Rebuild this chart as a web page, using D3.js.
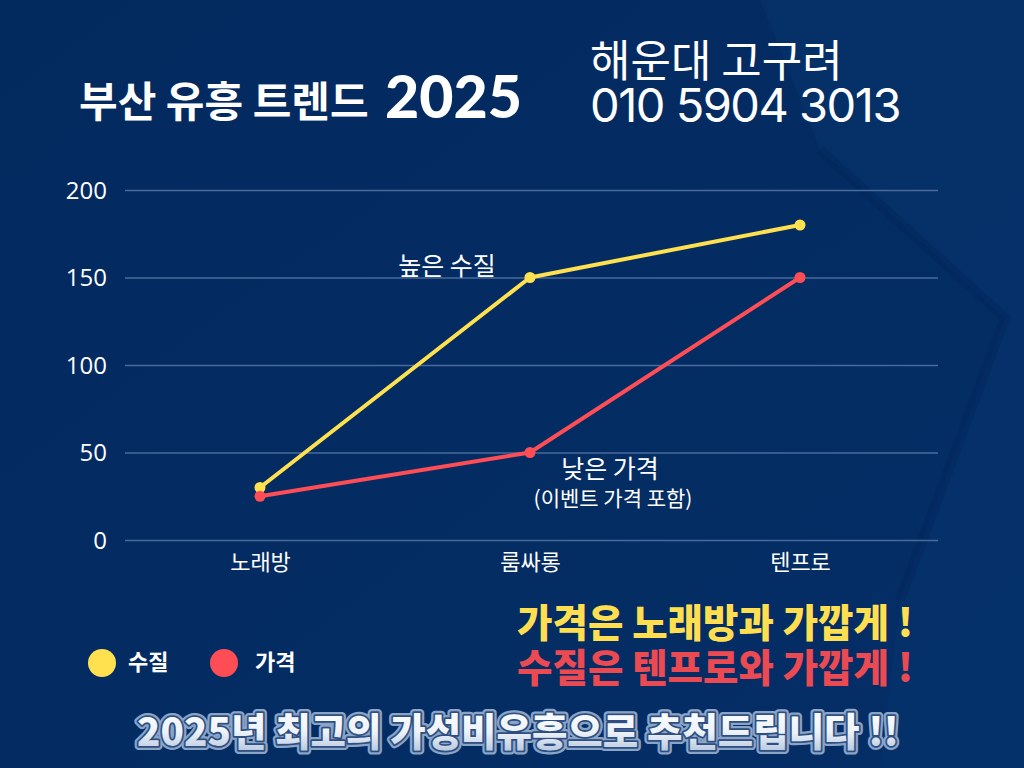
<!DOCTYPE html>
<html><head><meta charset="utf-8">
<script src="https://cdn.jsdelivr.net/npm/d3@7"></script>
<style>
html,body{margin:0;padding:0;background:#03295e;}
svg{display:block;}
</style></head>
<body>
<svg id="c" width="1024" height="768"></svg>
<script>
const categories = ["노래방", "룸싸롱", "텐프로"];
const quality = [30, 150, 180];
const price = [25, 50, 150];
const yTicks = [0, 50, 100, 150, 200];
const seriesNames = ["수질", "가격"];

const W = 1024, H = 768;
const svg = d3.select("#c");
const KR = "'Noto Sans CJK KR', 'Noto Sans', sans-serif";

// background
const defs = svg.append("defs");
const bg = defs.append("linearGradient").attr("id","bg").attr("x1",0).attr("y1",0).attr("x2",1).attr("y2",1);
bg.append("stop").attr("offset","0%").attr("stop-color","#032a5f");
bg.append("stop").attr("offset","100%").attr("stop-color","#042e66");
svg.append("rect").attr("width",W).attr("height",H).attr("fill","url(#bg)");
svg.append("path").attr("d","M820,150 L1005,318 L900,600 L880,768 L1024,768 L1024,0 L760,0 Z").attr("fill","#05336d").attr("opacity",0.5);
svg.append("path").attr("d","M820,150 L1005,318 L900,600").attr("fill","none").attr("stroke","#02255a").attr("stroke-width",10).attr("opacity",0.4);

const tg = defs.append("linearGradient").attr("id","tg").attr("x1",0).attr("y1",0).attr("x2",0).attr("y2",1);
tg.append("stop").attr("offset","0%").attr("stop-color","#ffffff");
tg.append("stop").attr("offset","55%").attr("stop-color","#eef3fa");
tg.append("stop").attr("offset","100%").attr("stop-color","#a9bcd8");

// scales
const x = d3.scalePoint().domain(categories).range([125, 935]).padding(0.5);
const y = d3.scaleLinear().domain([0, 200]).range([540, 190]);

// grid
const gy = svg.append("g").attr("transform","translate(938,0)");
gy.call(d3.axisLeft(y).tickValues(yTicks).tickSize(813).tickFormat(""));
gy.select(".domain").remove();
gy.selectAll("line").attr("stroke","#5a7bab").attr("stroke-width",1.5).attr("opacity",0.8);

const gyl = svg.append("g").attr("transform","translate(107,0)");
gyl.call(d3.axisLeft(y).tickValues(yTicks).tickSize(0).tickPadding(0));
gyl.select(".domain").remove();
gyl.selectAll("text").attr("fill","#ffffff").attr("font-family","'Open Sans','Noto Sans',sans-serif").attr("font-size",24).attr("dy","0.35em");

const gx = svg.append("g").attr("transform","translate(0,540)");
gx.call(d3.axisBottom(x).tickSize(0).tickPadding(0));
gx.select(".domain").remove();
gx.selectAll("text").attr("fill","#ffffff").attr("font-family",KR).attr("font-size",22).attr("dy",0).attr("y",30);

// lines
const series = [
  {name: seriesNames[0], values: quality, color: "#ffe14f"},
  {name: seriesNames[1], values: price, color: "#ff4d55"}
];
const line = d3.line().x((d,i)=>x(categories[i])).y(d=>y(d));
series.forEach(s=>{
  svg.append("path").datum(s.values).attr("d", line).attr("fill","none")
    .attr("stroke", s.color).attr("stroke-width",4).attr("stroke-linejoin","round");
  svg.selectAll(null).data(s.values).enter().append("circle")
    .attr("cx",(d,i)=>x(categories[i])).attr("cy",d=>y(d)).attr("r",5.5).attr("fill",s.color);
});

// annotations
svg.append("text").attr("x", x(categories[1]) - 83).attr("y", y(quality[1]) - 3)
  .attr("text-anchor","middle").attr("fill","#fff").attr("font-family",KR).attr("font-size",25).text("높은 수질");
svg.append("text").attr("x", x(categories[1]) + 80).attr("y", y(price[1]) + 25)
  .attr("text-anchor","middle").attr("fill","#fff").attr("font-family",KR).attr("font-size",25).text("낮은 가격");
svg.append("text").attr("x", x(categories[1]) + 83).attr("y", y(price[1]) + 53)
  .attr("text-anchor","middle").attr("fill","#fff").attr("font-family",KR).attr("font-size",21).text("(이벤트 가격 포함)");

// titles
svg.append("text").attr("x",79).attr("y",117).attr("fill","#fff").attr("font-family",KR)
  .attr("font-weight",700).attr("font-size",42).text("부산 유흥 트렌드");
svg.append("text").attr("x",385).attr("y",118).attr("fill","#fff").attr("font-family","'Lato','Noto Sans',sans-serif")
  .attr("font-weight",900).attr("font-size",59).text("2025");
svg.append("text").attr("x",590).attr("y",77).attr("fill","#fff").attr("font-family",KR)
  .attr("font-weight",400).attr("font-size",44).text("해운대 고구려");
svg.append("text").attr("x",590).attr("y",122).attr("fill","#fff").attr("font-family","'Inter','Noto Sans',sans-serif")
  .attr("font-weight",400).attr("font-size",47).attr("letter-spacing",-1.5).text("010 5904 3013");

// callouts
svg.append("text").attr("x",913).attr("y",637).attr("text-anchor","end").attr("fill","#ffdf4f").attr("font-family",KR)
  .attr("font-weight",900).attr("font-size",38.5).text("가격은 노래방과 가깝게 !");
svg.append("text").attr("x",913).attr("y",682).attr("text-anchor","end").attr("fill","#ec4a52").attr("font-family",KR)
  .attr("font-weight",900).attr("font-size",38.5).text("수질은 텐프로와 가깝게 !");

// legend
const lg = svg.append("g");
const lx = [102, 224];
const ltx = [128, 255];
series.forEach((s,i)=>{
  lg.append("circle").attr("cx",lx[i]).attr("cy",663).attr("r",14).attr("fill",s.color);
  lg.append("text").attr("x",ltx[i]).attr("y",670).attr("fill","#fff").attr("font-family",KR)
    .attr("font-weight",700).attr("font-size",22).text(s.name);
});

// bottom banner
const banner = "2025년 최고의 가성비유흥으로 추천드립니다 !!";
svg.append("text").attr("x",518).attr("y",746).attr("text-anchor","middle").attr("font-family",KR)
  .attr("font-weight",900).attr("font-size",38.5).attr("fill","none").attr("stroke","#8aa4c8").attr("stroke-width",8)
  .attr("stroke-linejoin","round").text(banner);
svg.append("text").attr("x",518).attr("y",746).attr("text-anchor","middle").attr("font-family",KR)
  .attr("font-weight",900).attr("font-size",38.5).attr("fill","none").attr("stroke","#2f4f80").attr("stroke-width",3.5)
  .attr("stroke-linejoin","round").text(banner);
svg.append("text").attr("x",518).attr("y",746).attr("text-anchor","middle").attr("font-family",KR)
  .attr("font-weight",900).attr("font-size",38.5).attr("fill","url(#tg)")
  .text(banner);
</script>
</body></html>
